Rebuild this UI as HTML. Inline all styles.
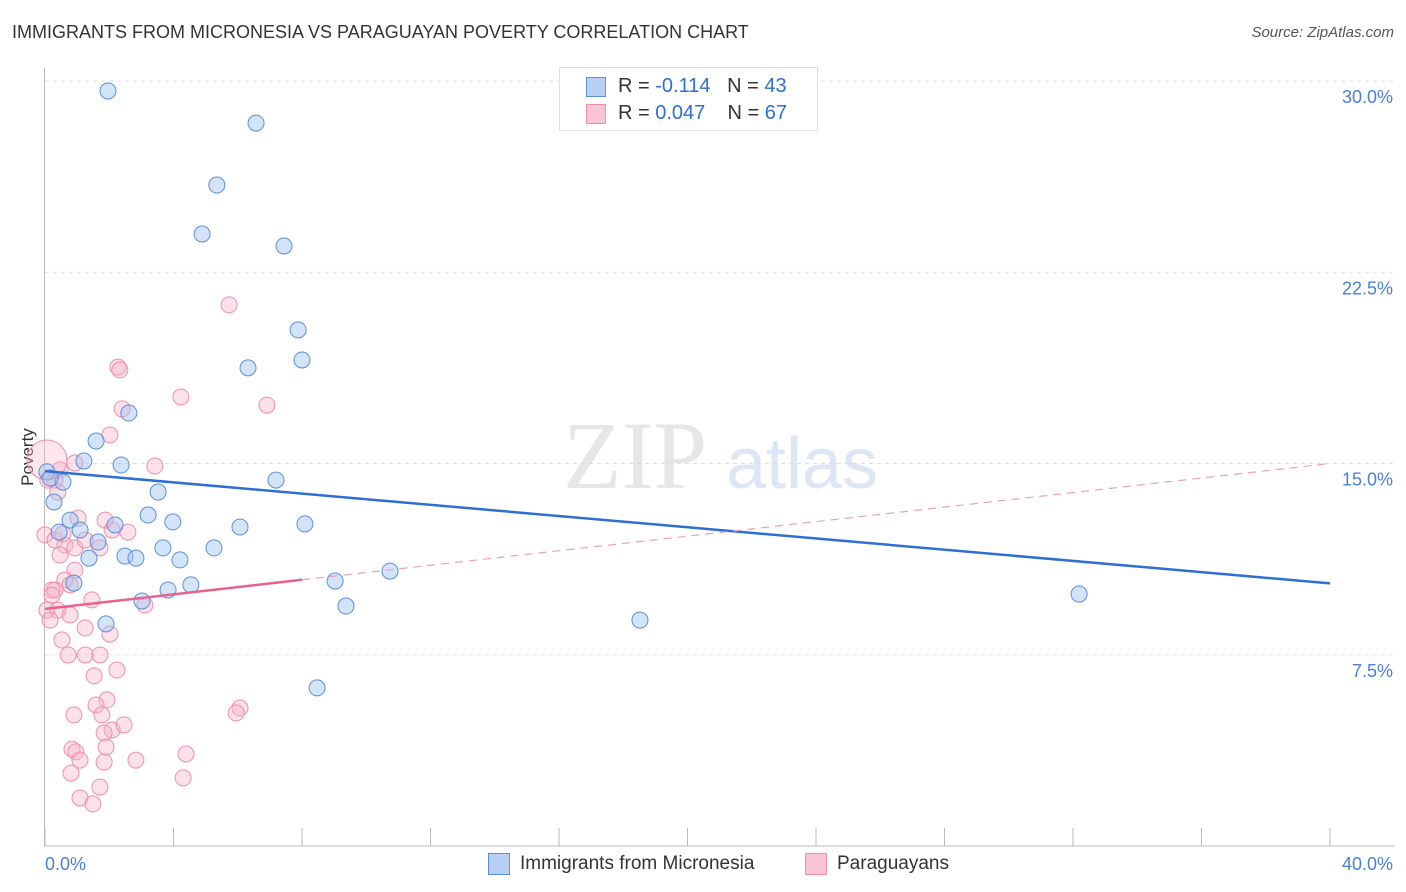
<!DOCTYPE html>
<html><head><meta charset="utf-8">
<style>
body{margin:0;background:#fff;font-family:"Liberation Sans",sans-serif;}
#wrap{position:relative;width:1406px;height:892px;overflow:hidden;}
.t{position:absolute;white-space:nowrap;}
</style></head>
<body>
<div id="wrap">
<div class="t" style="left:12px;top:22px;font-size:18px;color:#333;">IMMIGRANTS FROM MICRONESIA VS PARAGUAYAN POVERTY CORRELATION CHART</div>
<div class="t" style="right:12px;top:24px;font-size:15px;color:#555;font-style:italic;">Source: ZipAtlas.com</div>
<svg id="svg" width="1406" height="892" style="position:absolute;left:0;top:0"></svg>
</div>
<script>
const xTicks=[0,40];
const yTicks=[7.5,15,22.5,30];
const blueX=[],blueY=[],pinkX=[],pinkY=[];
const bluePx=[[108,91],[256,123],[217,185],[202,234],[284,246],[298,330],[302,360],[248,368],[129,413],[96,441],[84,461],[121,465],[276,480],[158,492],[63,482],[54,502],[148,515],[173,522],[240,527],[305,524],[70,520],[115,525],[59,532],[80,530],[98,542],[163,548],[214,548],[125,556],[136,558],[180,560],[89,558],[335,581],[390,571],[191,585],[168,590],[74,583],[142,601],[346,606],[1079,594],[640,620],[106,624],[317,688],[47,472],[50,478]];
const pinkPx=[[229,305],[118,367],[120,370],[181,397],[267,405],[122,409],[110,435],[155,466],[75,463],[60,470],[55,480],[58,492],[78,518],[105,520],[128,532],[112,530],[45,535],[55,540],[65,545],[75,548],[85,540],[60,555],[100,548],[75,570],[65,580],[70,585],[52,590],[47,610],[58,610],[92,600],[145,605],[70,615],[85,628],[110,634],[62,640],[68,655],[85,655],[100,655],[117,670],[94,676],[107,700],[96,705],[74,715],[102,715],[240,708],[236,713],[112,730],[104,733],[124,725],[72,749],[76,752],[106,747],[186,754],[80,760],[104,762],[136,760],[71,773],[183,778],[100,787],[80,798],[93,804],[55,590],[48,480],[63,534],[50,620],[52,595]];
// convert read pixel positions to data values once
bluePx.forEach(p=>{blueX.push(+((p[0]-45)/1285*40).toFixed(2));blueY.push(+((846-p[1])/765*30).toFixed(2));});
pinkPx.forEach(p=>{pinkX.push(+((p[0]-45)/1285*40).toFixed(2));pinkY.push(+((846-p[1])/765*30).toFixed(2));});
const blueLine=[14.7,10.3];
const pinkLine=[9.3,15.0];
const pinkSolidEnd=8;
const X=v=>45+v/40*1285, Y=v=>846-v/30*765;
const svg=document.getElementById('svg');
const NS='http://www.w3.org/2000/svg';
function mk(t,a,p){const e=document.createElementNS(NS,t);for(const k in a)e.setAttribute(k,a[k]);(p||svg).appendChild(e);return e;}
// watermark
let w=mk('text',{x:635,y:488,'font-size':96,'font-family':'Liberation Serif,serif',fill:'#e6e6e6','text-anchor':'middle'});w.textContent='ZIP';

let w2=mk('text',{x:802,y:488,'font-size':72,'font-family':'Liberation Sans,sans-serif',fill:'#dce6f4','text-anchor':'middle'});w2.textContent='atlas';

// grid + y labels
yTicks.forEach(v=>{
 const g=mk('line',{x1:45,x2:1395,y1:Y(v),y2:Y(v),stroke:'#ddd','stroke-dasharray':'4,4'});
 
 const t=mk('text',{x:1393,y:Y(v)+22,'font-size':18,fill:'#4a7fd4','text-anchor':'end'});t.textContent=v.toFixed(1)+'%';
 
});
// axes
let ax=mk('line',{x1:44.5,x2:44.5,y1:68,y2:846,stroke:'#bbb'});
let bx=mk('line',{x1:44,x2:1395,y1:846,y2:846,stroke:'#bbb'});
for(let i=0;i<=10;i++){const l=mk('line',{x1:X(i*4),x2:X(i*4),y1:828,y2:846,stroke:'#bbb'});}
xTicks.forEach((v,i)=>{const t=mk('text',{x:i?1393:45,y:870,'font-size':18,fill:'#4a7fd4','text-anchor':i?'end':'start'});t.textContent=v.toFixed(1)+'%';
 });
let yt=mk('text',{x:33,y:457,'font-size':17,fill:'#333','text-anchor':'middle',transform:'rotate(-90 33 457)'});yt.textContent='Poverty';

// points
pinkX.forEach((x,i)=>{const c=mk('circle',{cx:X(x),cy:Y(pinkY[i]),r:8,fill:'rgba(248,180,200,0.4)',stroke:'#ee8fab','stroke-width':1});
 });
let big=mk('circle',{cx:47,cy:460,r:20,fill:'rgba(248,180,200,0.35)',stroke:'#ee8fab'});
blueX.forEach((x,i)=>{const c=mk('circle',{cx:X(x),cy:Y(blueY[i]),r:8,fill:'rgba(160,195,240,0.45)',stroke:'#5b8fdc','stroke-width':1});
 });
// trend lines
let bl=mk('line',{x1:X(0),y1:Y(blueLine[0]),x2:X(40),y2:Y(blueLine[1]),stroke:'#2e6fd3','stroke-width':2.5});

const py=x=>pinkLine[0]+(pinkLine[1]-pinkLine[0])*x/40;
let pl=mk('line',{x1:X(0),y1:Y(py(0)),x2:X(pinkSolidEnd),y2:Y(py(pinkSolidEnd)),stroke:'#e8628c','stroke-width':2.5});

let pd=mk('line',{x1:X(pinkSolidEnd),y1:Y(py(pinkSolidEnd)),x2:X(40),y2:Y(py(40)),stroke:'#e8a0b8','stroke-width':1.2,'stroke-dasharray':'8,6'});

</script>
<div class="t" style="left:559px;top:67px;width:257px;height:62px;border:1px solid #ddd;background:#fff;">
 <div style="position:absolute;left:26px;top:9px;width:18px;height:18px;background:#b8d0f3;border:1px solid #5b8fdc;"></div>
 <div style="position:absolute;left:58px;top:7px;font-size:20px;color:#333;">R = <span style="color:#2e6fd3">-0.114</span>&nbsp;&nbsp;&nbsp;N = <span style="color:#2e6fd3">43</span></div>
 <div style="position:absolute;left:26px;top:36px;width:18px;height:18px;background:#f9c4d3;border:1px solid #ee8fab;"></div>
 <div style="position:absolute;left:58px;top:34px;font-size:20px;color:#333;">R = <span style="color:#2e6fd3">0.047</span>&nbsp;&nbsp;&nbsp;&nbsp;N = <span style="color:#2e6fd3">67</span></div>
</div>
<div class="t" style="left:488px;top:853px;width:20px;height:20px;background:#b8d0f3;border:1px solid #5b8fdc;"></div>
<div class="t" style="left:520px;top:853px;font-size:19px;color:#333;">Immigrants from Micronesia</div>
<div class="t" style="left:805px;top:853px;width:20px;height:20px;background:#f9c4d3;border:1px solid #ee8fab;"></div>
<div class="t" style="left:837px;top:853px;font-size:19px;color:#333;">Paraguayans</div>
</body></html>
